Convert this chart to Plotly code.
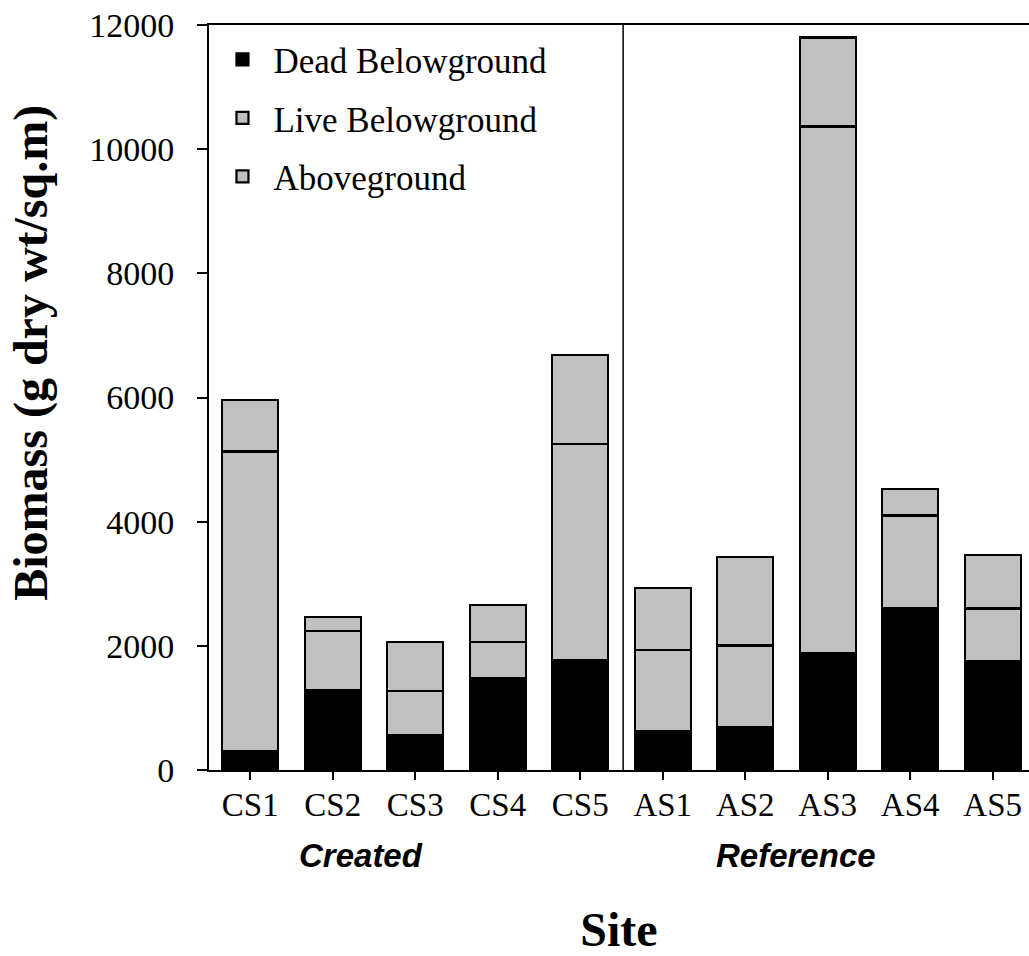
import plotly.graph_objects as go

# Biomass by site (g dry wt / sq.m), stacked components
sites = ["CS1", "CS2", "CS3", "CS4", "CS5", "AS1", "AS2", "AS3", "AS4", "AS5"]
dead_below = [310, 1290, 570, 1475, 1775, 630, 695, 1880, 2610, 1755]
live_below = [4820, 955, 705, 590, 3475, 1305, 1310, 8485, 1490, 845]
aboveground = [836, 215, 785, 590, 1440, 1000, 1425, 1435, 425, 865]

y_ticks = [0, 2000, 4000, 6000, 8000, 10000, 12000]
group_labels = ["Created", "Reference"]
group_centers = [0.1854, 0.716]

x_pos = list(range(len(sites)))

serif = "Liberation Serif, Times New Roman, serif"
sans = "Liberation Sans, Arial, sans-serif"
grey = "#c0c0c0"
outline = dict(color="black", width=2.2)

fig = go.Figure()
fig.add_trace(go.Bar(x=x_pos, y=dead_below, name="Dead Belowground",
                     marker=dict(color="black", line=outline),
                     width=0.68, legendgroup="a"))
fig.add_trace(go.Bar(x=x_pos, y=live_below, name="Live Belowground",
                     marker=dict(color=grey, line=outline),
                     width=0.68, legendgroup="b"))
fig.add_trace(go.Bar(x=x_pos, y=aboveground, name="Aboveground",
                     marker=dict(color=grey, line=outline),
                     width=0.68, legendgroup="c"))

# divider between created and reference sites
fig.add_shape(type="line", xref="x", yref="paper", x0=4.52, x1=4.52, y0=0, y1=1,
              line=dict(color="black", width=1.5))

for lbl, cx in zip(group_labels, group_centers):
    fig.add_annotation(x=cx, xref="paper", y=-0.1154, yref="paper", text=f"<b><i>{lbl}</i></b>",
                       showarrow=False, font=dict(family=sans, size=33, color="black"),
                       xanchor="center", yanchor="middle")

# y-axis title
fig.add_annotation(x=(31 - 209) / 820, xref="paper", y=0.56, yref="paper",
                   text="<b>Biomass (g dry wt/sq.m)</b>", textangle=-90, showarrow=False,
                   font=dict(family=serif, size=48, color="black"),
                   xanchor="center", yanchor="middle")

fig.update_layout(
    width=1029, height=956,
    margin=dict(l=209, r=0, t=25, b=186),
    paper_bgcolor="white", plot_bgcolor="white",
    barmode="stack",
    showlegend=True,
    legend=dict(x=0.003, y=0.993, xanchor="left", yanchor="top",
                font=dict(family=serif, size=35, color="black"),
                traceorder="grouped", tracegroupgap=10, itemwidth=52,
                bgcolor="rgba(0,0,0,0)"),
    xaxis=dict(range=[-0.5, 9.44], tickmode="array", tickvals=x_pos, ticktext=sites,
               showline=True, linecolor="black", linewidth=2, mirror=True,
               ticks="outside", ticklen=8, tickwidth=2, tickcolor="black",
               ticklabelstandoff=-4,
               showgrid=False, zeroline=False,
               tickfont=dict(family=serif, size=33, color="black"),
               title=dict(text="<b>Site</b>", font=dict(family=serif, size=48, color="black"),
                          standoff=92)),
    yaxis=dict(range=[0, 12000], tickmode="array", tickvals=y_ticks,
               ticktext=[str(v) for v in y_ticks],
               showline=True, linecolor="black", linewidth=2,
               ticks="outside", ticklen=10, tickwidth=2, tickcolor="black",
               ticklabelstandoff=16,
               showgrid=False, zeroline=False,
               tickfont=dict(family=serif, size=34, color="black")),
)

fig.write_html("out.html")
